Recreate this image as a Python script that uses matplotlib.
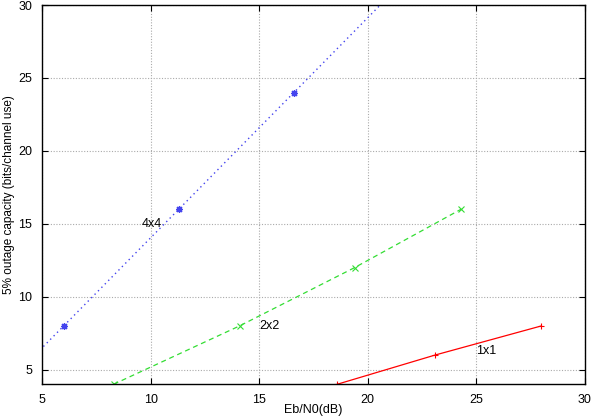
import numpy as np
import matplotlib.pyplot as plt

plt.rcParams['font.family'] = ['Liberation Sans', 'DejaVu Sans']

# data
x_1x1 = [18.6, 23.1, 28.0]
y_1x1 = [4, 6, 8]
x_2x2 = [8.3, 14.1, 19.4, 24.3]
y_2x2 = [4, 8, 12, 16]
# the 4x4 curve runs past the plot window at both ends
x_4x4 = [0.7, 6.0, 11.3, 16.6, 21.9]
y_4x4 = [0, 8, 16, 24, 32]

labels = ['1x1', '2x2', '4x4']
label_pos = [(25.0, 6.3), (15.0, 8.0), (9.6, 15.0)]

xticks = [5, 10, 15, 20, 25, 30]
yticks = [5, 10, 15, 20, 25, 30]

fig = plt.figure(figsize=(5.92, 4.19), dpi=100)
ax = fig.add_axes([0.071, 0.083, 0.917, 0.905])

ax.plot(x_1x1, y_1x1, color='#ff0000', lw=0.9, ls='-', marker='+', ms=5, mew=0.8)
ax.plot(x_2x2, y_2x2, color='#33dd33', lw=0.9, ls=(0, (4, 3)), marker='x', ms=4, mew=0.8)
ax.plot(x_4x4, y_4x4, color='#4444ee', lw=1.0, ls=(0, (1, 2.5)), marker=(8, 2, 0), ms=5, mew=0.9)

for txt, (lx, ly) in zip(labels, label_pos):
    ax.text(lx, ly, txt, fontsize=9, ha='left', va='center')

ax.set_xlim(5, 30)
ax.set_ylim(4, 30)
ax.set_xticks(xticks)
ax.set_yticks(yticks)
ax.grid(True, color='#aaaaaa', ls=(0, (1, 1.5)), lw=0.8)
ax.tick_params(direction='in', top=True, right=True, labelsize=9, length=4, pad=7)
for s in ax.spines.values():
    s.set_linewidth(1.0)

fig.text(313 / 592, 1 - 410 / 419, 'Eb/N0(dB)', fontsize=9, ha='center', va='center')
fig.text(9 / 592, 1 - 195 / 419, '5% outage capacity (bits/channel use)', fontsize=8.5,
         ha='center', va='center', rotation=90)

fig.savefig('out.png', dpi=100)
